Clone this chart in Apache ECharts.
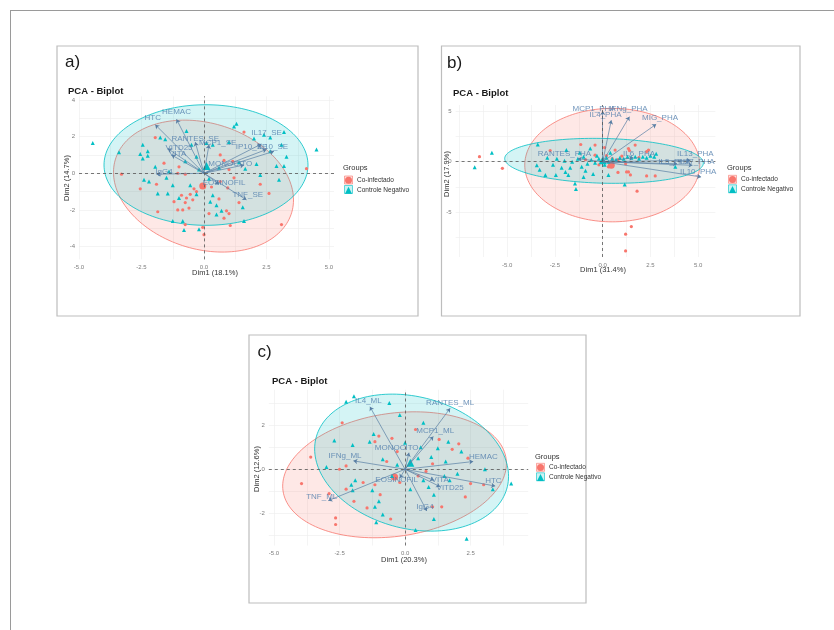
<!DOCTYPE html>
<html>
<head>
<meta charset="utf-8">
<script src="https://cdn.jsdelivr.net/npm/echarts@6/dist/echarts.min.js"></script>
<style>
  html, body { margin: 0; padding: 0; background: #ffffff; }
  #chart { width: 834px; height: 630px; }
</style>
</head>
<body>
<div id="chart"></div>
<script>
// ---- Groups ----
const groupNames = ['Co-infectado', 'Controle Negativo'];
const groupColors = ['#F8766D', '#00BFC4'];
const groupSymbols = ['circle', 'triangle'];

// ---- Panel a) : individuals (Dim1, Dim2) ----
const aCoinfectado = [[-3.3,-0.05],[-1.95,1.95],[-1.6,0.55],[-1.9,-0.6],[-2.55,-0.85],[-1.85,-2.1],[-0.9,-1.2],[-0.75,-1.6],[-0.55,-1.15],[-0.45,-1.45],[-1.05,-2.0],[-0.85,-2.0],[-0.6,-1.9],[-1.05,0.0],[-0.75,-0.05],[-0.4,-0.85],[-0.7,-1.35],[-0.3,-1.0],[-0.75,-2.8],[0.0,-3.35],[-0.05,-2.95],[1.6,2.25],[4.1,0.25],[2.25,-0.6],[3.1,-2.8],[1.05,-2.85],[1.0,-2.2],[0.9,-2.05],[0.8,-2.45],[0.6,-1.4],[1.2,-0.25],[0.95,-0.8],[0.65,-0.45],[1.15,0.65],[0.8,0.7],[0.65,1.0],[1.0,0.2],[0.3,-0.75],[-1.2,-1.55],[2.6,-1.1],[1.4,-1.6],[0.2,-2.2],[-1.0,0.35]];
const aControle = [[-4.45,1.65],[-3.4,1.15],[-2.45,1.55],[-2.25,1.2],[-2.55,1.05],[-2.25,0.95],[-2.45,0.8],[-1.75,1.95],[-1.55,1.85],[-1.95,0.35],[-2.4,-0.35],[-2.2,-0.45],[-1.85,-1.1],[-1.45,-1.1],[-1.5,-0.25],[-1.4,0.1],[-1.25,-0.65],[-0.55,-0.65],[-0.75,0.65],[-0.7,2.3],[-0.5,1.55],[-1.0,-1.35],[-0.3,-1.15],[-0.8,-3.1],[-0.2,-3.05],[-1.25,-2.6],[-0.85,-2.6],[1.3,2.7],[1.2,2.55],[2.0,1.9],[2.65,1.95],[3.2,2.25],[2.65,1.2],[3.1,1.55],[2.1,0.5],[2.9,0.4],[3.2,0.4],[4.5,1.3],[2.25,-0.1],[3.0,-0.35],[1.6,-2.6],[0.5,-1.75],[0.7,-2.05],[0.5,-2.25],[0.35,-1.2],[0.25,-1.55],[1.65,0.25],[0.35,1.55],[0.1,1.65],[1.0,1.7],[-0.3,0.9],[0.6,0.3],[1.4,0.6],[1.55,-1.85],[3.3,0.9],[-0.2,0.2],[0.2,-0.3],[2.4,2.1]];
const aGroupMeans = [[-0.05,-0.7],[0.1,0.4]];
// ellipse: [centre x, centre y, half-width, half-height, correlation]
const aEllipses = [[-0.02,-0.7,3.6,3.6,-0.21],[0.08,0.45,4.08,3.29,0.0]];
const aVarNames = ['HTC','HEMAC','RANTES_SE','MCP1_SE','VITD25','VITA','IgG4','MONOCITO','EOSINOFIL','TNF_SE','IL17_SE','IP10_SE','IL10_SE'];
const aVarEnds = [[-1.95,2.65],[-1.1,2.95],[-0.35,1.7],[0.2,1.55],[-1.45,1.35],[-1.3,1.0],[-1.9,-0.05],[1.6,0.45],[0.6,-0.6],[1.7,-1.45],[2.3,1.6],[2.5,1.3],[2.8,1.2]];
const aVarLabelAt = [[-2.05,3.0],[-1.1,3.35],[-0.35,1.9],[0.55,1.65],[-1.0,1.4],[-1.05,1.05],[-1.6,0.1],[1.05,0.5],[0.8,-0.5],[1.75,-1.15],[2.5,2.2],[1.9,1.45],[2.75,1.45]];

// ---- Panel b) ----
const bCoinfectado = [[-6.45,0.5],[-5.25,-0.65],[-1.15,1.7],[-0.4,1.65],[-0.4,0.65],[0.1,1.4],[0.65,1.15],[1.35,1.3],[1.7,1.65],[2.4,1.15],[2.3,1.0],[1.4,1.1],[0.8,-1.05],[1.35,-1.0],[1.45,-1.3],[2.3,-1.4],[2.75,-1.4],[1.25,-1.0],[1.8,-2.9],[1.5,-6.4],[1.2,-7.15],[1.2,-8.8],[0.5,0.3],[1.0,0.55],[1.2,-0.2],[0.3,-0.5],[-2.75,1.1],[-0.9,0.2],[0.8,0.2],[1.9,0.4],[0.2,0.6],[-0.2,-0.3]];
const bControle = [[-6.7,-0.55],[-5.8,0.9],[-3.4,1.7],[-3.45,-0.35],[-3.3,-0.8],[-3.0,-1.3],[-2.45,-1.3],[-2.15,-0.6],[-1.95,-1.0],[-1.8,-1.3],[-1.45,-2.15],[-1.4,-2.7],[-1.9,1.15],[-1.1,-0.5],[-1.6,0.0],[-0.65,1.3],[-2.4,0.3],[-2.0,0.1],[-1.3,0.3],[-1.0,0.5],[-0.8,-0.2],[-0.6,0.2],[-0.4,-0.1],[-0.2,0.3],[0.0,0.1],[0.1,-0.3],[0.2,0.4],[0.3,0.0],[0.5,0.3],[0.7,0.2],[0.9,0.4],[1.1,0.3],[1.3,0.5],[1.5,0.4],[1.7,0.5],[1.9,0.3],[2.1,0.5],[2.3,0.4],[2.5,0.6],[2.7,0.5],[2.8,0.8],[0.3,-1.3],[1.15,-2.25],[3.8,-0.5],[-0.5,-1.2],[-1.0,-1.5],[-2.6,-0.3],[-1.7,-0.6],[-0.3,0.6],[0.4,0.9],[-1.2,0.9],[-0.9,-0.9],[-2.9,0.4]];
const bGroupMeans = [[0.45,-0.35],[0.0,0.15]];
const bEllipses = [[0.5,-0.33,4.58,5.6,0.0],[0.07,0.09,5.2,2.22,-0.1]];
const bVarNames = ['MCP1_PHA','IL4_PHA','IFNg_PHA','MIG_PHA','RANTES_PHA','IL6_PHA','IL13_PHA','IL5_PHA','IL17_PHA','IL10_PHA'];
const bVarEnds = [[0.0,5.0],[0.45,4.1],[1.4,4.45],[2.8,3.7],[-1.3,0.3],[1.6,0.4],[4.6,0.15],[3.9,-0.2],[4.7,-0.35],[5.15,-1.5]];
const bVarLabelAt = [[-0.45,5.2],[0.15,4.6],[1.35,5.2],[3.0,4.3],[-2.0,0.75],[1.9,0.75],[4.85,0.75],[3.75,-0.05],[4.9,-0.05],[5.0,-0.95]];

// ---- Panel c) ----
const cCoinfectado = [[-2.4,2.1],[-1.15,1.25],[-3.6,0.55],[-3.95,-0.65],[-2.25,0.15],[-2.5,0.0],[-2.25,-0.9],[-1.95,-1.45],[-2.65,-2.2],[-2.65,-2.5],[-1.15,-0.7],[-0.95,-1.15],[-0.7,0.35],[-0.5,1.4],[1.3,1.35],[2.05,1.15],[2.4,0.5],[1.05,0.25],[2.5,-0.65],[2.3,-1.25],[1.4,-1.7],[1.05,-1.7],[0.5,-0.3],[-0.2,-0.6],[0.4,1.8],[-1.6,-0.6],[-0.55,-2.25],[-1.45,-1.75],[0.8,-0.1],[1.8,0.9],[-0.3,0.8],[-2.9,-1.1],[3.0,-0.7],[-1.0,1.5]];
const cControle = [[-1.95,3.3],[-2.25,3.05],[-2.7,1.3],[-2.0,1.1],[-1.35,1.25],[-1.2,1.6],[-1.9,-0.5],[-2.05,-0.7],[-2.0,-0.95],[-1.25,-0.95],[-1.0,-1.45],[-1.15,-1.7],[-0.85,-2.05],[-1.1,-2.4],[-0.85,0.45],[-0.2,2.45],[0.7,2.1],[1.65,1.25],[1.25,0.95],[1.0,0.55],[2.15,0.8],[1.55,0.35],[3.05,0.0],[3.35,-0.9],[4.05,-0.65],[1.1,-1.15],[1.1,-2.25],[0.4,-2.75],[2.35,-3.15],[-0.6,3.0],[0.5,0.5],[0.7,-0.5],[0.9,-0.8],[1.5,-0.3],[2.0,-0.2],[-0.3,0.2],[0.2,-0.9],[-0.5,-0.3],[-3.0,0.1],[0.0,1.2],[1.7,-0.5],[0.6,1.0]];
const cGroupMeans = [[-0.4,-0.35],[0.2,0.3]];
const cEllipses = [[-0.4,-0.25,4.27,2.85,0.18],[0.25,0.3,3.7,3.1,-0.2]];
const cVarNames = ['IL4_ML','RANTES_ML','MCP1_ML','MONOCITO','IFNg_ML','HEMAC','HTC','VITA','VITD25','EOSINOFIL','TNF_ML','IgG4'];
const cVarEnds = [[-1.34,2.83],[1.72,2.76],[1.08,1.48],[0.15,0.75],[-1.97,0.38],[2.6,0.35],[3.44,-0.76],[1.1,-0.5],[1.34,-0.79],[-0.2,-0.4],[-2.93,-1.42],[0.83,-1.89]];
const cVarLabelAt = [[-1.4,3.1],[1.72,3.01],[1.15,1.73],[-0.32,0.95],[-2.29,0.6],[2.99,0.57],[3.37,-0.53],[1.34,-0.48],[1.72,-0.83],[-0.32,-0.48],[-3.18,-1.24],[0.76,-1.69]];

// ---- Axis texts ----
const panelTags = ['a)', 'b)', 'c)'];
const dim1Titles = ['Dim1 (18.1%)', 'Dim1 (31.4%)', 'Dim1 (20.3%)'];
const dim2Titles = ['Dim2 (14.7%)', 'Dim2 (17.9%)', 'Dim2 (12.6%)'];
const xTickValues = [[-5, -2.5, 0, 2.5, 5], [-5, -2.5, 0, 2.5, 5], [-5, -2.5, 0, 2.5]];
const yTickValues = [[-4, -2, 0, 2, 4], [-5, 0, 5], [-2, 0, 2]];
const xGridValues = [[-5,-3.75,-2.5,-1.25,0,1.25,2.5,3.75,5], [-7.5,-6.25,-5,-3.75,-2.5,-1.25,0,1.25,2.5,3.75,5], [-5,-3.75,-2.5,-1.25,0,1.25,2.5,3.75]];
const yGridValues = [[-4,-3,-2,-1,0,1,2,3,4], [-7.5,-5,-2.5,0,2.5,5], [-3,-2,-1,0,1,2,3]];

// ---- Layout (pixels) ----
const layout = [
  { xMin: -5.0, xMax: 5.2, yMin: -4.7, yMax: 4.2, left: 79, top: 96.3, width: 255, height: 163.1,
    box: [57, 46, 361, 270], tag: [65, 62], title: [68, 92], dim1: [215, 273], dim2: [66.5, 178],
    legendX: 345, legendY: 176.5, groupsY: 167.7 },
  { xMin: -7.7, xMax: 5.9, yMin: -9.4, yMax: 5.6, left: 455.6, top: 105, width: 259.8, height: 152,
    box: [441.5, 46, 358.5, 270], tag: [447, 63.5], title: [453, 94], dim1: [603, 270], dim2: [446.5, 174],
    legendX: 729, legendY: 175.8, groupsY: 167.5 },
  { xMin: -5.2, xMax: 4.7, yMin: -3.45, yMax: 3.6, left: 268.8, top: 389.7, width: 259.4, height: 155.8,
    box: [249, 335, 337, 268], tag: [257.5, 352], title: [272, 382.5], dim1: [404, 560], dim2: [257, 469],
    legendX: 537, legendY: 463.8, groupsY: 456.5 }
];

const panelData = [
  { pts: [aCoinfectado, aControle], means: aGroupMeans, ell: aEllipses, names: aVarNames, ends: aVarEnds, labels: aVarLabelAt },
  { pts: [bCoinfectado, bControle], means: bGroupMeans, ell: bEllipses, names: bVarNames, ends: bVarEnds, labels: bVarLabelAt },
  { pts: [cCoinfectado, cControle], means: cGroupMeans, ell: cEllipses, names: cVarNames, ends: cVarEnds, labels: cVarLabelAt }
];

const fontFamily = '"Liberation Sans", Arial, sans-serif';
const arrowColor = '#587ea4';
const varTextColor = '#4f7cab';

function tint(hex, a) {
  const n = parseInt(hex.slice(1), 16);
  return 'rgba(' + (n >> 16) + ',' + ((n >> 8) & 255) + ',' + (n & 255) + ',' + a + ')';
}

// Concentration ellipse drawn from centre, half-extents and correlation
function renderEllipse(params, api) {
  const cx = api.value(0), cy = api.value(1), sx = api.value(2), sy = api.value(3), r = api.value(4), g = api.value(5);
  const q = Math.sqrt(1 - r * r);
  const pts = [];
  for (let i = 0; i <= 160; i++) {
    const t = i / 160 * Math.PI * 2;
    pts.push(api.coord([cx + sx * Math.cos(t), cy + sy * (r * Math.cos(t) + q * Math.sin(t))]));
  }
  return {
    type: 'polygon',
    shape: { points: pts },
    style: { fill: tint(groupColors[g], 0.17), stroke: groupColors[g], lineWidth: 0.8 }
  };
}

const grids = [], xAxes = [], yAxes = [], series = [], legends = [], titles = [], graphics = [];

// page frame
graphics.push({ type: 'line', shape: { x1: 10, y1: 10.5, x2: 834, y2: 10.5 }, style: { stroke: '#9a9a9a', lineWidth: 1 } });
graphics.push({ type: 'line', shape: { x1: 10.5, y1: 10, x2: 10.5, y2: 630 }, style: { stroke: '#9a9a9a', lineWidth: 1 } });

layout.forEach((L, i) => {
  const D = panelData[i];
  grids.push({ left: L.left, top: L.top, width: L.width, height: L.height });
  xAxes.push({
    gridIndex: i, type: 'value', min: L.xMin, max: L.xMax,
    axisLine: { show: false },
    axisTick: { show: false, customValues: xGridValues[i] },
    splitLine: { show: true, lineStyle: { color: '#ececec', width: 0.6 } },
    axisLabel: { customValues: xTickValues[i], formatter: v => v.toFixed(1), fontSize: 6, color: '#7d7d7d', margin: 5, fontFamily }
  });
  yAxes.push({
    gridIndex: i, type: 'value', min: L.yMin, max: L.yMax,
    axisLine: { show: false },
    axisTick: { show: false, customValues: yGridValues[i] },
    splitLine: { show: true, lineStyle: { color: '#ececec', width: 0.6 } },
    axisLabel: { customValues: yTickValues[i], formatter: v => String(v), fontSize: 6, color: '#7d7d7d', margin: 4, fontFamily }
  });

  // ellipses
  series.push({
    type: 'custom', name: 'ellipse-' + i, xAxisIndex: i, yAxisIndex: i, z: 1, silent: true,
    renderItem: renderEllipse,
    data: D.ell.map((e, g) => e.concat([g]))
  });

  // individuals per group, group mean drawn larger
  [0, 1].forEach(g => {
    const s = {
      type: 'scatter', name: groupNames[g], xAxisIndex: i, yAxisIndex: i, z: 3,
      symbol: groupSymbols[g], symbolSize: g === 0 ? 3.2 : 4,
      itemStyle: { color: groupColors[g], opacity: 1 },
      data: D.pts[g].map(p => p.slice()).concat([{ value: D.means[g], symbolSize: g === 0 ? 7 : 8 }])
    };
    if (g === 0) {
      s.markLine = {
        silent: true, symbol: 'none', animation: false,
        label: { show: false },
        lineStyle: { color: '#555', type: [3, 3], width: 0.8 },
        data: [{ xAxis: 0 }, { yAxis: 0 }]
      };
    }
    series.push(s);
  });

  // variable vectors
  series.push({
    type: 'lines', name: 'vectors-' + i, coordinateSystem: 'cartesian2d', xAxisIndex: i, yAxisIndex: i, z: 4,
    symbol: ['none', 'arrow'], symbolSize: 4, silent: true,
    lineStyle: { color: arrowColor, width: 0.7, opacity: 1 },
    data: D.ends.map(e => ({ coords: [[0, 0], e] }))
  });

  // variable names
  series.push({
    type: 'scatter', name: 'variables-' + i, xAxisIndex: i, yAxisIndex: i, z: 5, silent: true,
    symbolSize: 0,
    label: { show: true, position: 'inside', formatter: '{b}', color: varTextColor, fontSize: 8, fontFamily },
    data: D.names.map((n, k) => ({ name: n, value: D.labels[k] }))
  });

  titles.push({ text: 'PCA - Biplot', left: L.title[0], top: L.title[1] - 6,
    textStyle: { fontSize: 9.5, fontWeight: 'bold', color: '#1a1a1a', fontFamily }, padding: 0 });

  legends.push({
    orient: 'vertical', left: L.legendX, top: L.legendY, padding: 0,
    itemWidth: 7, itemHeight: 7, itemGap: 2.5,
    textStyle: { fontSize: 6.5, color: '#333', fontFamily, lineHeight: 7.5 },
    data: [{ name: groupNames[0], icon: 'circle' }, { name: groupNames[1], icon: 'triangle' }],
    selectedMode: false
  });

  // panel box and texts
  graphics.push({ type: 'rect', shape: { x: L.box[0], y: L.box[1], width: L.box[2], height: L.box[3] },
    style: { fill: 'none', stroke: '#bdbdbd', lineWidth: 1.2 }, z: 0 });
  graphics.push({ type: 'text', x: L.tag[0], y: L.tag[1],
    style: { text: panelTags[i], font: '17px ' + fontFamily, fill: '#1a1a1a', verticalAlign: 'middle' } });
  graphics.push({ type: 'text', x: L.dim1[0], y: L.dim1[1],
    style: { text: dim1Titles[i], font: '7.5px ' + fontFamily, fill: '#333', align: 'center', verticalAlign: 'middle' } });
  graphics.push({ type: 'text', x: L.dim2[0], y: L.dim2[1], rotation: Math.PI / 2,
    style: { text: dim2Titles[i], font: '7.5px ' + fontFamily, fill: '#333', align: 'center', verticalAlign: 'middle' } });
  graphics.push({ type: 'text', x: L.legendX - 2, y: L.groupsY,
    style: { text: 'Groups', font: '7.5px ' + fontFamily, fill: '#333', verticalAlign: 'middle' } });
  [0, 1].forEach(g => {
    graphics.push({ type: 'rect', z: -1,
      shape: { x: L.legendX - 0.5, y: L.legendY + g * 9.5 - 0.5, width: 8, height: 8 },
      style: { fill: tint(groupColors[g], 0.2), stroke: groupColors[g], lineWidth: 0.6 } });
  });
});

const chart = echarts.init(document.getElementById('chart'));
chart.setOption({
  backgroundColor: '#ffffff',
  animation: false,
  title: titles,
  legend: legends,
  grid: grids,
  xAxis: xAxes,
  yAxis: yAxes,
  series: series,
  graphic: { elements: graphics }
});
</script>
</body>
</html>
